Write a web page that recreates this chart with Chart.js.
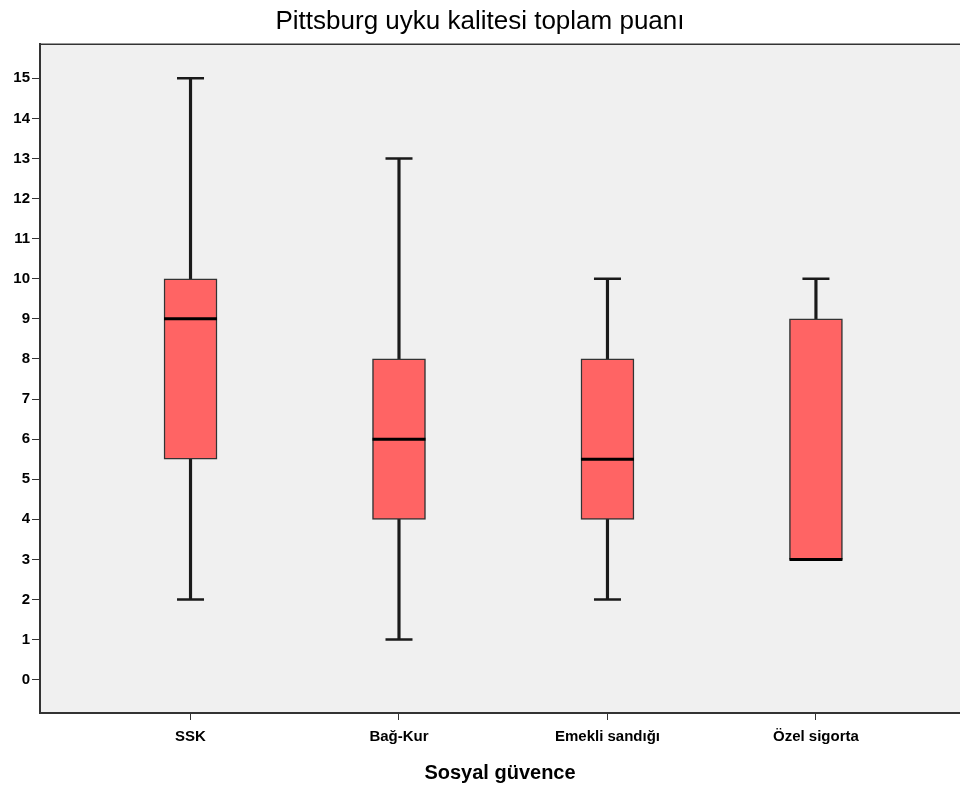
<!DOCTYPE html>
<html>
<head>
<meta charset="utf-8">
<script src="https://cdn.jsdelivr.net/npm/chart.js@4.4.1/dist/chart.umd.min.js"></script>
<style>
  html, body { margin: 0; padding: 0; background: #fff; }
  #wrap { width: 960px; height: 790px; }
</style>
</head>
<body>
<div id="wrap"><canvas id="chart" width="960" height="790"></canvas></div>
<script>
// box plot values
const categories = ["SSK", "Bağ-Kur", "Emekli sandığı", "Özel sigorta"];
const mins    = [2, 1, 2, 3];
const q1s     = [5.5, 4, 4, 3];
const medians = [9, 6, 5.5, 3];
const q3s     = [10, 8, 8, 9];
const maxs    = [15, 13, 10, 10];
const yTicks  = [0, 1, 2, 3, 4, 5, 6, 7, 8, 9, 10, 11, 12, 13, 14, 15];

const idx = categories.map((c, i) => i);
const FONT = "Liberation Sans, Arial, sans-serif";

const plotBg = {
  id: "plotBg",
  beforeDraw(chart) {
    const { ctx, chartArea: a } = chart;
    ctx.save();
    ctx.fillStyle = "#f0f0f0";
    ctx.fillRect(a.left, a.top, a.right - a.left, a.bottom - a.top);
    ctx.strokeStyle = "#333";
    ctx.lineWidth = 1.5;
    ctx.beginPath();
    ctx.moveTo(a.left, a.top);
    ctx.lineTo(a.right, a.top);
    ctx.stroke();
    ctx.restore();
  }
};

new Chart(document.getElementById("chart"), {
  type: "bar",
  data: {
    datasets: [
      {
        type: "bar",
        label: "lower whisker",
        data: idx.map(i => ({ x: i, y: [mins[i], q1s[i]] })),
        backgroundColor: "#1a1a1a",
        barThickness: 2.5,
        grouped: false,
        order: 4
      },
      {
        type: "bar",
        label: "upper whisker",
        data: idx.map(i => ({ x: i, y: [q3s[i], maxs[i]] })),
        backgroundColor: "#1a1a1a",
        barThickness: 2.5,
        grouped: false,
        order: 4
      },
      {
        type: "bar",
        label: "box",
        data: idx.map(i => ({ x: i, y: [q1s[i], q3s[i]] })),
        backgroundColor: "#ff6464",
        borderColor: "#333",
        borderWidth: 1.5,
        borderSkipped: false,
        barThickness: 53,
        grouped: false,
        order: 3
      },
      {
        type: "scatter",
        label: "caps",
        data: idx.flatMap(i => [{ x: i, y: mins[i] }, { x: i, y: maxs[i] }]),
        pointStyle: "line",
        pointRadius: 13.5,
        pointHoverRadius: 13.5,
        borderColor: "#1a1a1a",
        borderWidth: 2.5,
        order: 2
      },
      {
        type: "scatter",
        label: "median",
        data: idx.map(i => ({ x: i, y: medians[i] })),
        pointStyle: "line",
        pointRadius: 26.5,
        pointHoverRadius: 26.5,
        borderColor: "#000",
        borderWidth: 3,
        order: 1
      }
    ]
  },
  options: {
    responsive: false,
    animation: false,
    layout: { autoPadding: false, padding: { top: 0, right: 0, bottom: 5, left: 0 } },
    plugins: {
      legend: { display: false },
      tooltip: { enabled: false },
      title: {
        display: true,
        text: "Pittsburg uyku kalitesi toplam puanı",
        color: "#000",
        font: { family: FONT, size: 26, weight: "normal" },
        padding: { top: 6, bottom: 7 }
      }
    },
    scales: {
      x: {
        type: "linear",
        offset: false,
        min: -0.722,
        max: 3.691,
        afterBuildTicks: s => { s.ticks = idx.map(v => ({ value: v })); },
        afterFit: s => { s.paddingLeft = 0; s.paddingRight = 0; },
        ticks: {
          autoSkip: false,
          maxRotation: 0,
          color: "#000",
          padding: 8,
          font: { family: FONT, size: 15, weight: "bold" },
          callback: v => categories[v]
        },
        grid: { offset: false, drawOnChartArea: false, drawTicks: true, tickLength: 7, tickColor: "#333" },
        border: { display: true, color: "#333", width: 2 },
        title: {
          display: true,
          text: "Sosyal güvence",
          color: "#000",
          font: { family: FONT, size: 20, weight: "bold" },
          padding: { top: 7, bottom: 0 }
        }
      },
      y: {
        min: -0.83,
        max: 15.85,
        afterBuildTicks: s => { s.ticks = yTicks.map(v => ({ value: v })); },
        afterFit: s => { s.width = 40; },
        ticks: {
          color: "#000",
          padding: 2,
          font: { family: FONT, size: 15, weight: "bold" }
        },
        grid: { drawOnChartArea: false, drawTicks: true, tickLength: 8, tickColor: "#333" },
        border: { display: true, color: "#333", width: 2 }
      }
    }
  },
  plugins: [plotBg]
});
</script>
</body>
</html>
